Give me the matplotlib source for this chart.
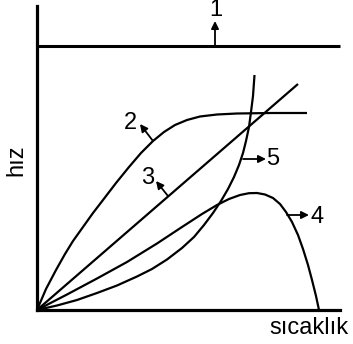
import matplotlib
matplotlib.use("Agg")
import matplotlib.pyplot as plt

plt.rcParams['font.family'] = ['Liberation Sans', 'DejaVu Sans']

# curve 1: constant rate
c1_x = [0, 303]
c1_y = [264, 264]

# curve 2: rises then levels off
c2_x = [0, 9, 19, 28, 36, 46, 56, 66, 79, 92, 104, 116, 127, 138, 150, 163, 180, 200, 235, 270]
c2_y = [0, 21, 40, 56, 69, 83, 97, 110, 127, 143, 157, 169, 178, 185, 190, 193.5, 195.5, 196.5, 197, 197]

# curve 3: straight line
c3_x = [0, 261]
c3_y = [0, 226]

# curve 4: rises to a peak then falls
c4_x = [0, 30, 60, 90, 120, 145, 165, 180, 192, 203, 212, 220, 228, 236, 243, 249, 255, 261, 266, 271, 275, 279, 282]
c4_y = [0, 15.5, 31.5, 48, 66.5, 83, 96, 105, 111, 115, 116.8, 117, 115.5, 112, 106, 98, 88, 75, 61, 45, 30, 14, 0]

# curve 5: accelerating
c5_x = [0, 20, 40, 60, 80, 100, 115, 130, 145, 157, 167, 176, 184, 191, 197, 202, 206, 209, 212, 214, 216, 217.5]
c5_y = [0, 4.5, 10, 17, 24.5, 33.5, 41, 50.5, 62, 73, 85, 97, 109, 121, 133, 145, 157, 169, 183, 198, 214, 235]

fig = plt.figure(figsize=(3.53, 3.44), dpi=100)
ax = fig.add_axes([37 / 353, 34 / 344, 303 / 353, 304 / 344])
ax.set_xlim(0, 303)
ax.set_ylim(0, 304)

for xs, ys in [(c1_x, c1_y), (c2_x, c2_y), (c3_x, c3_y), (c4_x, c4_y), (c5_x, c5_y)]:
    lw = 2.2 if xs is c1_x else 1.6
    ax.plot(xs, ys, color='black', lw=lw, solid_joinstyle='round', solid_capstyle='butt', clip_on=False)

# arrows with their numbers
arrows = [
    ("1", (178, 264), (178, 289), (179, 300)),
    ("2", (116, 169), (103, 186), (93, 187)),
    ("3", (131, 114), (119, 129), (111, 132)),
    ("5", (206, 151), (229, 151), (236, 151)),
    ("4", (250, 95), (272, 95), (280, 93)),
]
for lab, start, end, txt in arrows:
    ax.annotate("", xy=end, xytext=start,
                arrowprops=dict(arrowstyle='-|>', color='black', lw=1.3, mutation_scale=11,
                                shrinkA=0, shrinkB=0))
    ax.text(txt[0], txt[1], lab, fontsize=17, ha='center', va='center')

for side in ['top', 'right']:
    ax.spines[side].set_visible(False)
for side in ['left', 'bottom']:
    ax.spines[side].set_linewidth(2.3)
ax.set_xticks([])
ax.set_yticks([])

fig.text(16 / 353, 1 - 160 / 344, "hız", rotation=90, fontsize=17, ha='center', va='center')
fig.text(349 / 353, 1 - 328 / 344, "sıcaklık", fontsize=17, ha='right', va='center')

fig.savefig("out.png", dpi=100)
